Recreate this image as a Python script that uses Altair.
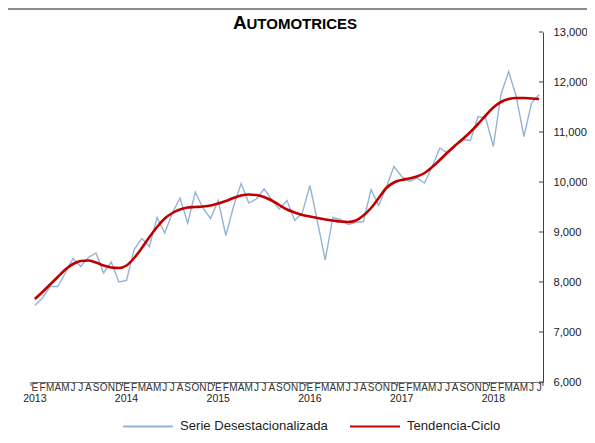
import altair as alt
import pandas as pd

# ---------------- data ----------------
serie = [7530, 7680, 7910, 7910, 8180, 8470, 8310, 8490, 8580, 8180, 8400, 8000,
         8030, 8650, 8870, 8710, 9290, 8980, 9380, 9680, 9180, 9800, 9480, 9270,
         9630, 8930, 9510, 9970, 9580, 9660, 9860, 9650, 9460, 9630, 9230, 9380,
         9930, 9200, 8440, 9290, 9250, 9150, 9190, 9210, 9850, 9530, 9900, 10310,
         10110, 10010, 10080, 9980, 10310, 10680, 10580, 10710, 10850, 10830, 11310, 11280,
         10710, 11750, 12210, 11710, 10910, 11580, 11750]
tendencia = [7660, 7800, 7950, 8100, 8250, 8360, 8420, 8430, 8390, 8330, 8290, 8280,
             8330, 8480, 8680, 8900, 9100, 9270, 9380, 9450, 9490, 9500, 9510, 9530,
             9570, 9620, 9680, 9730, 9750, 9740, 9700, 9630, 9540, 9450, 9390, 9340,
             9310, 9280, 9250, 9230, 9210, 9200, 9230, 9330, 9480, 9680, 9880, 9990,
             10040, 10070, 10110, 10180, 10300, 10440, 10590, 10730, 10860, 11000, 11160, 11330,
             11490, 11600, 11660, 11680, 11680, 11670, 11660]
month_letters = ["E", "F", "M", "A", "M", "J", "J", "A", "S", "O", "N", "D"]
years = ["2013", "2014", "2015", "2016", "2017", "2018"]
y_ticks = [6000, 7000, 8000, 9000, 10000, 11000, 12000, 13000]
series_names = ["Serie Desestacionalizada", "Tendencia-Ciclo"]
series_colors = ["#95B3D7", "#C00000"]

n = len(serie)
W, H = 512, 350
FONT = "Liberation Sans"

df_s = pd.DataFrame({"t": list(range(n)), "v": serie, "s": series_names[0]})
df_t = pd.DataFrame({"t": list(range(n)), "v": tendencia, "s": series_names[1]})
df_m = pd.DataFrame({"t": list(range(n)), "m": [month_letters[i % 12] for i in range(n)]})
df_y = pd.DataFrame({"t": [12 * k for k in range(len(years))], "y": years})
df_b = pd.DataFrame({"t": [12 * k - 0.5 for k in range(len(years))] + [n - 0.5]})
df_ticks = pd.DataFrame({"v": y_ticks})

xs = alt.Scale(domain=[-0.5, n - 0.5], nice=False, zero=False)
ys = alt.Scale(domain=[6000, 13000], nice=False, zero=False)
cs = alt.Scale(domain=series_names, range=series_colors)

x_enc = alt.X("t:Q", scale=xs,
              axis=alt.Axis(labels=False, ticks=False, title=None, grid=False,
                            domainColor="#6f6f6f", domainWidth=1))
y_enc = alt.Y("v:Q", scale=ys,
              axis=alt.Axis(orient="right", values=y_ticks, format=",.0f", title=None,
                            grid=False, ticks=False, labelPadding=10,
                            labelFontSize=11.2, labelFont=FONT, labelColor="#1a1a1a",
                            domainColor="#404040", domainWidth=1))

legend = alt.Legend(title=None, orient="none", legendX=91, legendY=368,
                    direction="horizontal", symbolType="stroke", symbolSize=2500,
                    symbolStrokeWidth=2, labelFontSize=13.1, labelFont=FONT,
                    labelColor="#222222", columnPadding=18, labelOffset=6,
                    labelLimit=300, padding=0)

blue = alt.Chart(df_s).mark_line(strokeWidth=1.4).encode(
    x=x_enc, y=y_enc, color=alt.Color("s:N", scale=cs, legend=legend))
red = alt.Chart(df_t).mark_line(strokeWidth=2.6, interpolate="monotone").encode(
    x="t:Q", y="v:Q", color=alt.Color("s:N", scale=cs, legend=legend))

inner_ticks = alt.Chart(df_ticks).mark_rule(color="#404040", strokeWidth=1).encode(
    y="v:Q", x=alt.value(W - 4), x2=alt.value(W))

months = alt.Chart(df_m).mark_text(fontSize=10, font=FONT, color="#333333",
                                   baseline="alphabetic").encode(
    x="t:Q", y=alt.value(H + 8.5), text="m:N")
year_txt = alt.Chart(df_y).mark_text(fontSize=10.5, font=FONT, color="#222222",
                                     baseline="alphabetic").encode(
    x="t:Q", y=alt.value(H + 19.5), text="y:N")
bounds = alt.Chart(df_b).mark_rule(color="#555555", strokeWidth=1).encode(
    x="t:Q", y=alt.value(H), y2=alt.value(H + 4))

title_a = alt.Chart(pd.DataFrame({"k": ["A"]})).mark_text(
    fontSize=19, font=FONT, fontWeight="bold", align="left", baseline="alphabetic",
    color="#000000").encode(x=alt.value(202), y=alt.value(-3), text="k:N")
title_b = alt.Chart(pd.DataFrame({"k": ["UTOMOTRICES"]})).mark_text(
    fontSize=15, font=FONT, fontWeight="bold", align="left", baseline="alphabetic",
    color="#000000").encode(x=alt.value(215.5), y=alt.value(-3), text="k:N")

border = alt.Chart(pd.DataFrame({"k": [0]})).mark_rule(color="#8c8c8c", strokeWidth=2).encode(
    x=alt.value(-23), x2=alt.value(W + 44), y=alt.value(-23))

chart = alt.layer(
    blue, red, inner_ticks, months, year_txt, bounds, title_a, title_b, border
).properties(
    width=W, height=H,
    autosize=alt.AutoSizeParams(type="none"),
    padding={"left": 23, "top": 24, "right": 44, "bottom": 53},
    background="white",
).configure_view(stroke=None)

chart.save("out.html", embed_options={"renderer": "svg", "actions": False})
